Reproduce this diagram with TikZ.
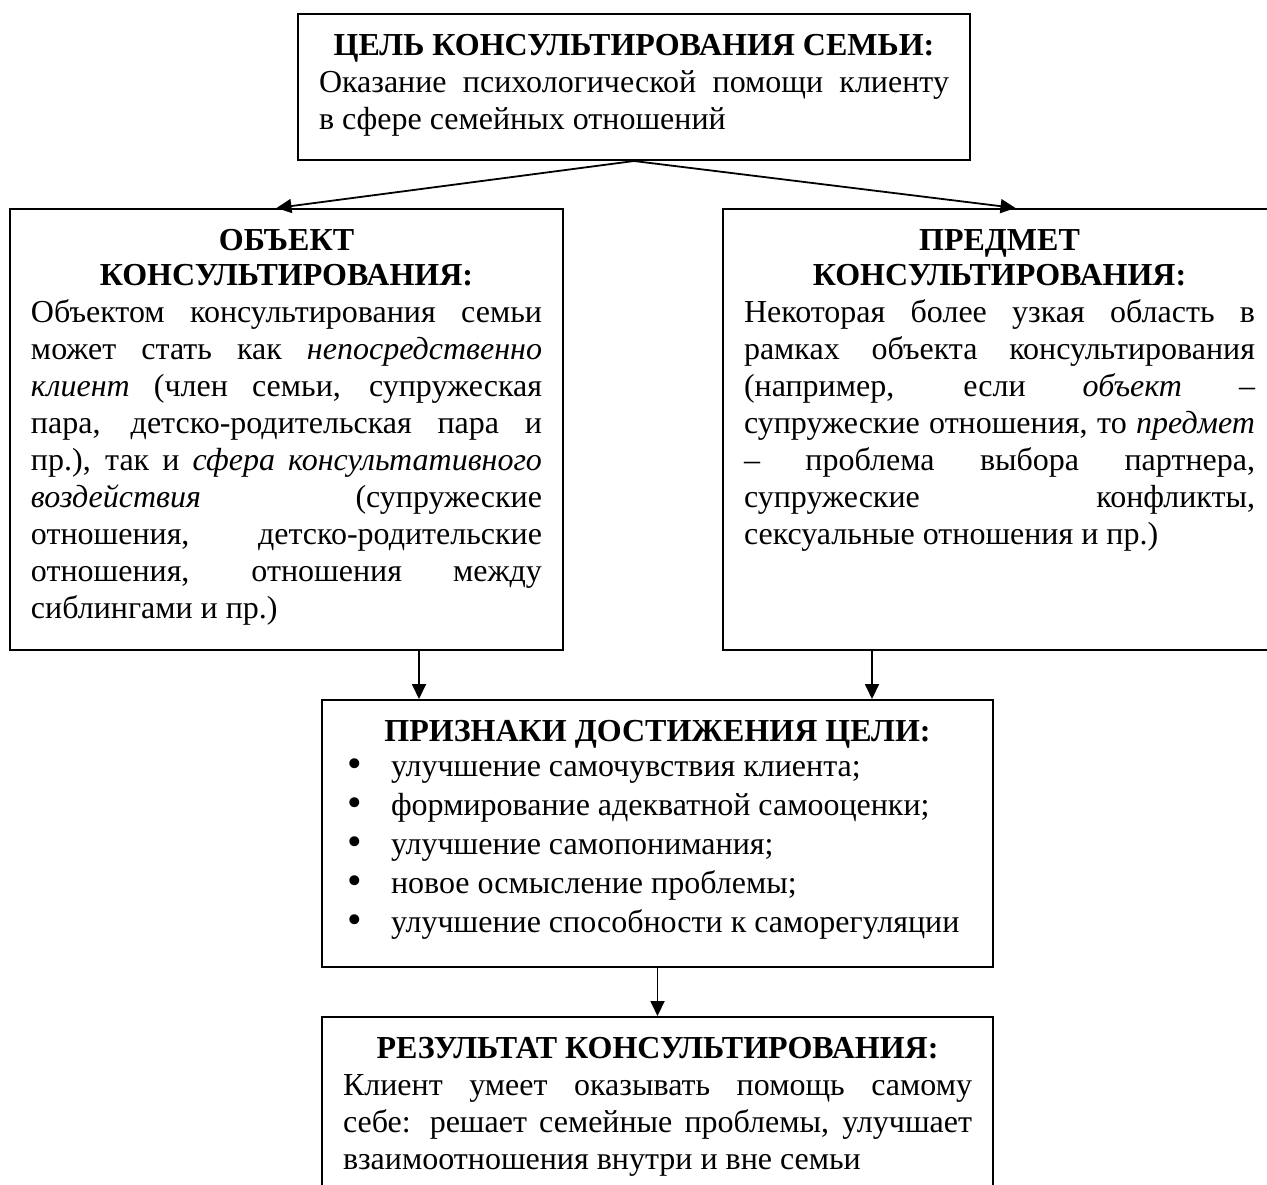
\documentclass[tikz,border=0pt]{standalone}
\usepackage{fontspec}
\setmainfont{Liberation Serif}
\usetikzlibrary{arrows.meta,calc}
\tolerance=10000
\hbadness=10000
\hyphenpenalty=10000
\tikzset{
  blok/.style={draw,line width=1pt,anchor=north west,inner xsep=10.5pt,inner ysep=0pt,
    align=justify,font=\fontsize{16}{18.5}\selectfont},
  strelka/.style={line width=0.9pt,-{Triangle[length=7.5pt,width=7pt]}},
}
\newcommand{\okno}[2]{\vbox to #1{\kern3pt\prevdepth=0pt\relax#2\vfil}}
\newcommand{\zagl}[1]{{\centering\bfseries\baselineskip=17.5pt\relax#1\par}}
\newcommand{\punkt}{\makebox[24pt][l]{\hspace{2pt}\raisebox{-0.8pt}{\scalebox{1.3}{\textbullet}}}}
\begin{document}
\begin{tikzpicture}[x=0.5pt,y=-0.5pt]
\useasboundingbox (0,0) rectangle (1267,1184);
\clip (0,0) rectangle (1267,1184);
% цель
\node[blok,text width=315pt] (celj) at (297,13) {\okno{73pt}{\zagl{ЦЕЛЬ КОНСУЛЬТИРОВАНИЯ СЕМЬИ:}
Оказание психологической помощи клиенту\linebreak в сфере семейных отношений\par}};
% объект и предмет
\node[blok,text width=255.5pt] (obj) at (9,208) {\okno{220.5pt}{\zagl{ОБЪЕКТ\\КОНСУЛЬТИРОВАНИЯ:}
Объектом консультирования семьи\linebreak может стать как \textit{непосредственно}\linebreak
\textit{клиент} (член семьи, супружеская\linebreak пара, детско-родительская пара и\linebreak
пр.), так и \textit{сфера консультативного}\linebreak \textit{воздействия} (супружеские\linebreak
отношения, детско-родительские\linebreak отношения, отношения между\linebreak сиблингами и пр.)\par}};
\node[blok,text width=255.5pt] (pred) at (722,208) {\okno{220.5pt}{\zagl{ПРЕДМЕТ\\КОНСУЛЬТИРОВАНИЯ:}
Некоторая более узкая область в\linebreak рамках объекта консультирования\linebreak
(например, если \textit{объект} –\linebreak супружеские отношения, то \textit{предмет}\linebreak
– проблема выбора партнера,\linebreak супружеские конфликты,\linebreak сексуальные отношения и пр.)\par}};
% признаки
\node[blok,text width=314.5pt] (priz) at (321,699) {\okno{133.5pt}{\zagl{ПРИЗНАКИ ДОСТИЖЕНИЯ ЦЕЛИ:}\vskip-2pt
{\baselineskip=19.5pt\relax
\punkt улучшение самочувствия клиента;\\
\punkt формирование адекватной самооценки;\\
\punkt улучшение самопонимания;\\
\punkt новое осмысление проблемы;\\
\punkt улучшение способности к саморегуляции\par}}};
% результат
\node[blok,text width=314.5pt] (rez) at (321,1016) {\okno{100pt}{\zagl{РЕЗУЛЬТАТ КОНСУЛЬТИРОВАНИЯ:}
Клиент умеет оказывать помощь самому\linebreak себе: решает семейные проблемы, улучшает\linebreak
взаимоотношения внутри и вне семьи\par}};
% стрелки
\draw[strelka] (celj.south) -- ([xshift=-5pt]obj.north);
\draw[strelka] (celj.south) -- ([xshift=8pt]pred.north);
\coordinate (a1) at ($(obj.south east)+(-145,0)$);
\draw[strelka] (a1) -- (a1 |- priz.north);
\coordinate (a2) at ($(pred.south west)+(150,0)$);
\draw[strelka] (a2) -- (a2 |- priz.north);
\draw[strelka] (priz.south) -- (rez.north);
\end{tikzpicture}
\end{document}
